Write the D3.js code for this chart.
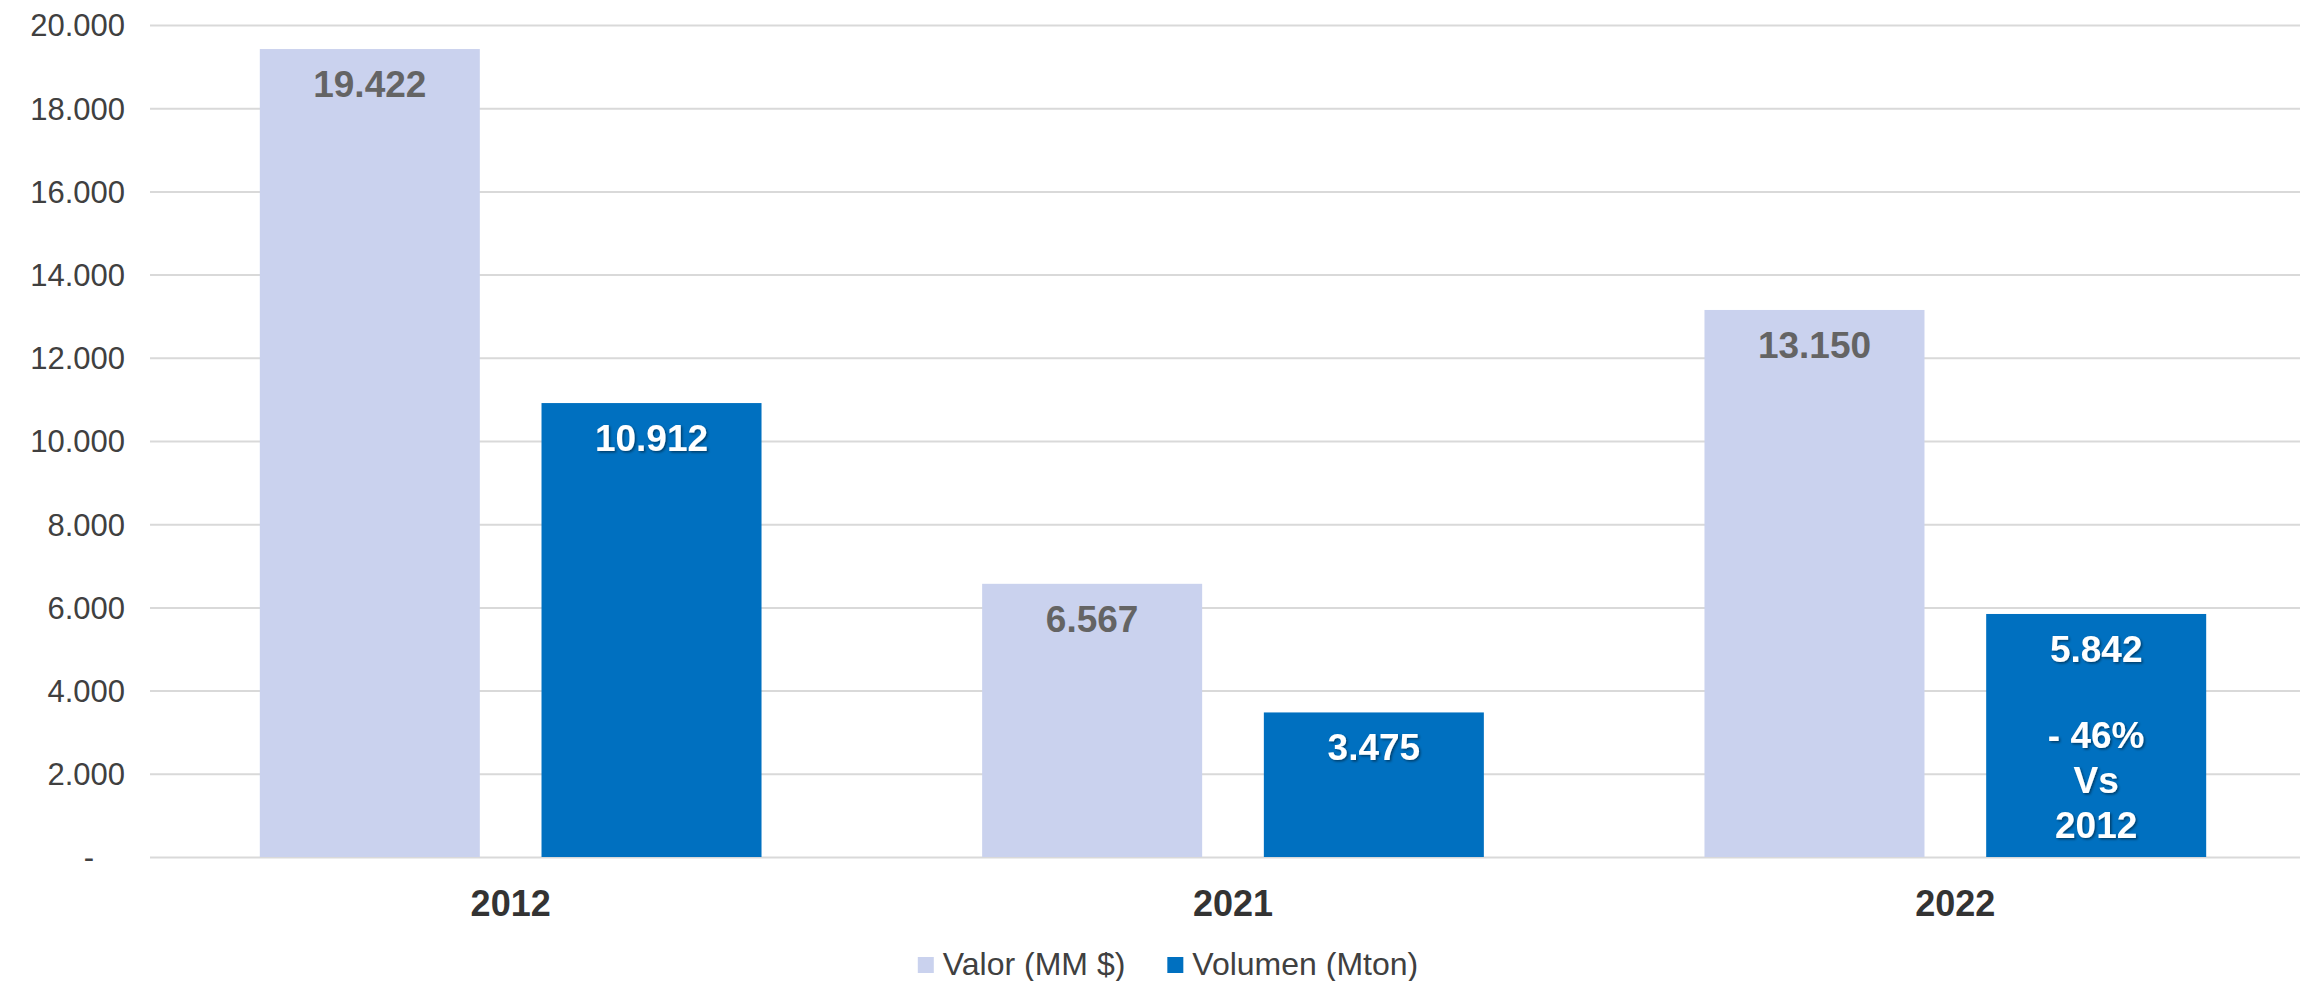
<!DOCTYPE html>
<html>
<head>
<meta charset="utf-8">
<script src="https://cdn.jsdelivr.net/npm/d3@7"></script>
<style>
  body { margin: 0; background: #fff; }
  text { font-family: "Liberation Sans", Arial, sans-serif; }
</style>
</head>
<body>
<div id="chart"></div>
<script>
// Data
var years = ["2012", "2021", "2022"];
var seriesNames = ["Valor (MM $)", "Volumen (Mton)"];
var valor = [19422, 6567, 13150];
var volumen = [10912, 3475, 5842];
var yTicks = [0, 2000, 4000, 6000, 8000, 10000, 12000, 14000, 16000, 18000, 20000];
var noteLines = ["- 46%", "Vs", "2012"];

// Set up canvas
var width = 2300;
var height = 981;
var plotLeft = 150;
var plotRight = 2300;
var plotTop = 25;
var plotBottom = 857;
var colors = ["#CAD2EE", "#0070C0"];
var labelColors = ["#646464", "#ffffff"];

var svg = d3
  .select("#chart")
  .append("svg")
  .attr("width", width)
  .attr("height", height);

// soft shadow used behind the white labels
var defs = svg.append("defs");
defs.append("filter")
  .attr("id", "shadow")
  .attr("x", "-20%").attr("y", "-20%")
  .attr("width", "140%").attr("height", "140%")
  .append("feDropShadow")
  .attr("dx", 1.5)
  .attr("dy", 1.5)
  .attr("stdDeviation", 1)
  .attr("flood-color", "#000")
  .attr("flood-opacity", 0.45);

// number format with dots as thousands separator
var locale = d3.formatLocale({ decimal: ",", thousands: ".", grouping: [3], currency: ["$", ""] });
var fmt = locale.format(",.0f");

// scales
var yScale = d3
  .scaleLinear()
  .domain([0, 20000])
  .range([plotBottom, plotTop]);

// the category band runs a little past the right edge of the picture
var x0 = d3
  .scaleBand()
  .domain(years)
  .range([149.5, 2316.5]);

var x1 = d3
  .scaleBand()
  .domain([0, 1])
  .range([0, x0.bandwidth()])
  .paddingInner(0.219)
  .paddingOuter(0.3916);

// gridlines + y labels through an axis
var yAxis = d3
  .axisLeft(yScale)
  .tickValues(yTicks)
  .tickSize(-(plotRight - plotLeft))
  .tickPadding(25)
  .tickFormat(function(d) { return d === 0 ? "-" : fmt(d); });

var gy = svg.append("g")
  .attr("transform", "translate(" + plotLeft + ",0)")
  .call(yAxis);
gy.select(".domain").remove();
gy.selectAll(".tick line")
  .attr("stroke", "#D9D9D9")
  .attr("stroke-width", 2);
gy.selectAll(".tick text")
  .attr("fill", "#404040")
  .style("font-size", "31px")
  .attr("dy", "0.35em");
// the zero dash sits further left, like the accounting format
gy.selectAll(".tick text")
  .filter(function(d) { return d === 0; })
  .attr("x", -56);

// bars
var rows = years.map(function(y, i) {
  return { year: y, values: [valor[i], volumen[i]] };
});

var groups = svg.append("g")
  .selectAll("g")
  .data(rows)
  .join("g")
  .attr("transform", function(d) { return "translate(" + x0(d.year) + ",0)"; });

groups.selectAll("rect")
  .data(function(d) { return d.values.map(function(v, k) { return { k: k, v: v, year: d.year }; }); })
  .join("rect")
  .attr("x", function(d) { return x1(d.k); })
  .attr("y", function(d) { return yScale(d.v); })
  .attr("width", x1.bandwidth())
  .attr("height", function(d) { return yScale(0) - yScale(d.v); })
  .attr("fill", function(d) { return colors[d.k]; });

// value labels inside the top of each bar
var labels = groups.selectAll("text.val")
  .data(function(d) { return d.values.map(function(v, k) { return { k: k, v: v, year: d.year }; }); })
  .join("text")
  .attr("class", "val")
  .attr("x", function(d) { return x1(d.k) + x1.bandwidth() / 2; })
  .attr("y", function(d) { return yScale(d.v) + 48; })
  .attr("text-anchor", "middle")
  .attr("fill", function(d) { return labelColors[d.k]; })
  .attr("filter", function(d) { return d.k === 1 ? "url(#shadow)" : null; })
  .style("font-size", "37px")
  .style("font-weight", "bold")
  .text(function(d) { return fmt(d.v); });

// extra note under the 2022 volume label (one blank line before it)
labels
  .filter(function(d) { return d.k === 1 && d.year === "2022"; })
  .selectAll("tspan")
  .data(noteLines)
  .join("tspan")
  .attr("x", function() { return x1(1) + x1.bandwidth() / 2; })
  .attr("dy", function(d, i) { return i === 0 ? 86 : 45; })
  .text(function(d) { return d; });

// x axis labels
var xAxis = d3.axisBottom(x0).tickSize(0).tickPadding(33);
var gx = svg.append("g")
  .attr("transform", "translate(0," + plotBottom + ")")
  .call(xAxis);
gx.select(".domain").remove();
gx.selectAll(".tick text")
  .attr("fill", "#333333")
  .style("font-size", "36px")
  .style("font-weight", "bold");

// legend
var legend = svg.append("g").attr("class", "legend");
var items = legend.selectAll("g")
  .data(seriesNames)
  .join("g");
items.append("rect")
  .attr("width", 16)
  .attr("height", 16)
  .attr("y", -18)
  .attr("fill", function(d, i) { return colors[i]; });
items.append("text")
  .attr("x", 25)
  .attr("fill", "#404040")
  .style("font-size", "32px")
  .text(function(d) { return d; });

var cursor = 0;
items.each(function() {
  var node = d3.select(this);
  node.attr("transform", "translate(" + cursor + ",0)");
  cursor += 25 + node.select("text").node().getComputedTextLength() + 42;
});
var legendWidth = cursor - 42;
legend.attr("transform", "translate(" + (1168 - legendWidth / 2) + ",975)");
</script>
</body>
</html>
